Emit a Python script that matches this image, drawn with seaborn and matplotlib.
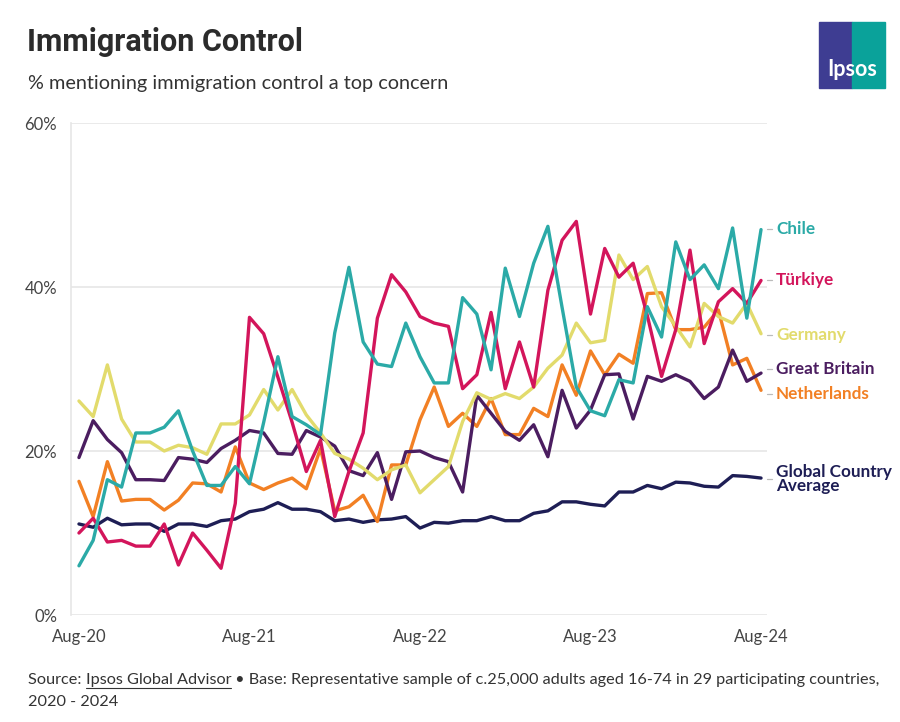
import numpy as np
import pandas as pd
import matplotlib
matplotlib.use("Agg")
import matplotlib.pyplot as plt
from matplotlib.patches import Rectangle
import seaborn as sns

# ---------------- data ----------------
months = ["Aug-20", "Sep-20", "Oct-20", "Nov-20", "Dec-20", "Jan-21", "Feb-21", "Mar-21",
          "Apr-21", "May-21", "Jun-21", "Jul-21", "Aug-21", "Sep-21", "Oct-21", "Nov-21",
          "Dec-21", "Jan-22", "Feb-22", "Mar-22", "Apr-22", "May-22", "Jun-22", "Jul-22",
          "Aug-22", "Sep-22", "Oct-22", "Nov-22", "Dec-22", "Jan-23", "Feb-23", "Mar-23",
          "Apr-23", "May-23", "Jun-23", "Jul-23", "Aug-23", "Sep-23", "Oct-23", "Nov-23",
          "Dec-23", "Jan-24", "Feb-24", "Mar-24", "Apr-24", "May-24", "Jun-24", "Jul-24",
          "Aug-24"]

chile = [6.0, 9.1, 16.5, 15.6, 22.2, 22.2, 22.9, 24.9, 20.0, 15.8, 15.8, 18.1, 16.0,
         23.5, 31.5, 24.2, 23.2, 22.0, 34.4, 42.4, 33.3, 30.6, 30.3, 35.6, 31.5, 28.3,
         28.3, 38.7, 36.7, 29.9, 42.3, 36.4, 42.9, 47.4, 37.5, 27.8, 24.9, 24.3, 28.7,
         28.3, 37.6, 33.9, 45.5, 40.9, 42.7, 39.8, 47.2, 36.2, 47.0]
turkiye = [10.0, 11.8, 8.9, 9.1, 8.4, 8.4, 11.1, 6.1, 10.0, 7.9, 5.7, 13.6, 36.3,
           34.3, 29.0, 23.5, 17.5, 21.3, 12.0, 17.5, 22.2, 36.2, 41.5, 39.4, 36.4, 35.6,
           35.2, 27.6, 29.3, 36.9, 27.6, 33.3, 27.8, 39.6, 45.7, 48.0, 36.7, 44.7, 41.2,
           42.9, 36.5, 29.1, 34.8, 44.5, 33.1, 38.2, 39.8, 38.0, 40.8]
germany = [26.1, 24.2, 30.5, 23.9, 21.1, 21.1, 20.0, 20.7, 20.4, 19.6, 23.3, 23.3, 24.4,
           27.5, 25.0, 27.5, 24.4, 22.2, 19.7, 19.0, 17.9, 16.5, 17.7, 18.3, 14.9, 16.5,
           18.1, 23.6, 27.1, 26.3, 27.0, 26.4, 27.8, 30.1, 31.7, 35.6, 33.2, 33.5, 43.9,
           40.9, 42.5, 37.6, 35.2, 32.7, 38.0, 36.4, 35.6, 38.0, 34.3]
great_britain = [19.2, 23.7, 21.4, 19.8, 16.5, 16.5, 16.4, 19.2, 19.0, 18.6, 20.3, 21.3, 22.5,
                 22.2, 19.7, 19.6, 22.5, 21.7, 20.6, 17.6, 17.0, 19.8, 14.1, 19.9, 20.0, 19.2,
                 18.7, 15.0, 26.8, 24.6, 22.4, 21.3, 23.2, 19.3, 27.4, 22.8, 25.0, 29.3, 29.4,
                 23.9, 29.1, 28.5, 29.3, 28.5, 26.4, 27.8, 32.3, 28.5, 29.5]
netherlands = [16.3, 12.0, 18.7, 13.9, 14.1, 14.1, 12.8, 14.0, 16.1, 16.0, 15.0, 20.5, 16.1,
               15.3, 16.1, 16.7, 15.4, 20.3, 12.7, 13.2, 14.6, 11.4, 18.3, 18.3, 23.8, 27.8,
               23.0, 24.6, 23.0, 26.4, 22.0, 22.0, 25.2, 24.2, 30.5, 26.8, 32.2, 29.3, 31.8,
               30.7, 39.2, 39.3, 34.8, 34.8, 35.1, 37.2, 30.5, 31.3, 27.4]
global_avg = [11.1, 10.7, 11.8, 11.0, 11.1, 11.1, 10.2, 11.1, 11.1, 10.8, 11.5, 11.7, 12.6,
              12.9, 13.7, 12.9, 12.9, 12.6, 11.5, 11.7, 11.3, 11.6, 11.7, 12.0, 10.6, 11.3,
              11.2, 11.5, 11.5, 12.0, 11.5, 11.5, 12.4, 12.7, 13.8, 13.8, 13.5, 13.3, 15.0,
              15.0, 15.8, 15.4, 16.2, 16.1, 15.7, 15.6, 17.0, 16.9, 16.7]

series_names = ["Chile", "Türkiye", "Germany", "Great Britain", "Netherlands",
                "Global Country\nAverage"]
series_values = [chile, turkiye, germany, great_britain, netherlands, global_avg]
colors = ["#2BAAA7", "#D3155B", "#E2DB6C", "#4B1D60", "#F28024", "#1E1E55"]

tick_labels = ["Aug-20", "Aug-21", "Aug-22", "Aug-23", "Aug-24"]
y_ticks = [0, 20, 40, 60]

# ---------------- frame ----------------
rows = []
for name, vals in zip(series_names, series_values):
    for i, v in enumerate(vals):
        rows.append({"idx": i, "month": months[i], "country": name, "value": v})
df = pd.DataFrame(rows)

sns.set_theme(style="white")
plt.rcParams["font.family"] = ["Lato", "DejaVu Sans"]

fig = plt.figure(figsize=(9, 7.22), dpi=100)
ax = fig.add_axes([71 / 900, 1 - 615 / 722, (767 - 71) / 900, (615 - 123) / 722])

palette = dict(zip(series_names, colors))
sns.lineplot(data=df, x="idx", y="value", hue="country", palette=palette,
             hue_order=series_names[::-1], linewidth=2.4, legend=False, ax=ax,
             sort=True, estimator=None)

ax.set_xlim(-0.56, 48.42)
ax.set_ylim(0, 60)
ax.set_yticks(y_ticks)
ax.set_yticklabels([f"{t}%" for t in y_ticks])
xt = [months.index(t) for t in tick_labels]
ax.set_xticks(xt)
ax.set_xticklabels(tick_labels)
ax.set_xlabel("")
ax.set_ylabel("")

grid_c = "#e6e6e6"
ax.yaxis.grid(True, color=grid_c, linewidth=1.2, zorder=0)
ax.xaxis.grid(False)
for s in ["top", "right", "bottom"]:
    ax.spines[s].set_visible(False)
ax.spines["left"].set_color(grid_c)
ax.spines["left"].set_linewidth(1.2)
ax.tick_params(axis="y", length=8, width=1.2, color=grid_c, labelsize=12,
               labelcolor="#444444", pad=2)
ax.tick_params(axis="x", length=8, width=1.2, color=grid_c, labelsize=12,
               labelcolor="#444444", pad=2, direction="out")
ax.set_axisbelow(True)

# right-side labels
label_pos = {"Chile": 47.1, "Türkiye": 40.9, "Germany": 34.1, "Great Britain": 30.0,
             "Netherlands": 26.9, "Global Country\nAverage": 16.6}
for name, col in zip(series_names, colors):
    yv = label_pos[name]
    ax.plot([48.45, 48.75], [yv, yv], color="#bbbbbb", lw=0.9, clip_on=False)
    ax.text(49.05, yv, name, color=col, fontsize=12.3, fontweight="bold",
            va="center", ha="left", clip_on=False, linespacing=0.85)

# titles
fig.text(27 / 900, 1 - 42 / 722, "Immigration Control", fontsize=22, fontweight="bold",
         color="#2b2b2b", va="center", ha="left",
         family=["Liberation Sans Narrow", "Roboto", "DejaVu Sans"])
fig.text(28 / 900, 1 - 83 / 722, "% mentioning immigration control a top concern",
         fontsize=14.3, color="#333333", va="center", ha="left")

# footer
fs = 11.7
src = fig.text(28 / 900, 1 - 680 / 722, "Source: ", fontsize=fs, color="#333333",
               va="center", ha="left")
fig.canvas.draw()
r = fig.canvas.get_renderer()
bb = src.get_window_extent(r)
link = fig.text(bb.x1 / 900, 1 - 680 / 722, "Ipsos Global Advisor", fontsize=fs,
                color="#333333", va="center", ha="left")
bb2 = link.get_window_extent(r)
fig.add_artist(plt.Line2D([bb2.x0 / 900, bb2.x1 / 900],
                          [(bb2.y0 - 1) / 722, (bb2.y0 - 1) / 722],
                          color="#333333", lw=0.8))
fig.text(bb2.x1 / 900, 1 - 680 / 722,
         " \u2022 Base: Representative sample of c.25,000 adults aged 16-74 in 29 participating countries,",
         fontsize=fs, color="#333333", va="center", ha="left")
fig.text(28 / 900, 1 - 702 / 722, "2020 - 2024", fontsize=fs, color="#333333",
         va="center", ha="left")

# logo
lx0, ly0, lw_, lh_ = 819 / 900, 1 - 88 / 722, 33 / 900, 66 / 722
fig.add_artist(Rectangle((lx0, ly0), lw_, lh_, transform=fig.transFigure,
                         color="#3E3D92", zorder=5))
fig.add_artist(Rectangle((lx0 + lw_, ly0), 33 / 900, lh_, transform=fig.transFigure,
                         color="#0AA29A", zorder=5))
fig.text(852 / 900, 1 - 70 / 722, "Ipsos", fontsize=15.5, fontweight="bold",
         color="white", ha="center", va="center", zorder=6)

fig.savefig("out.png", dpi=100)
